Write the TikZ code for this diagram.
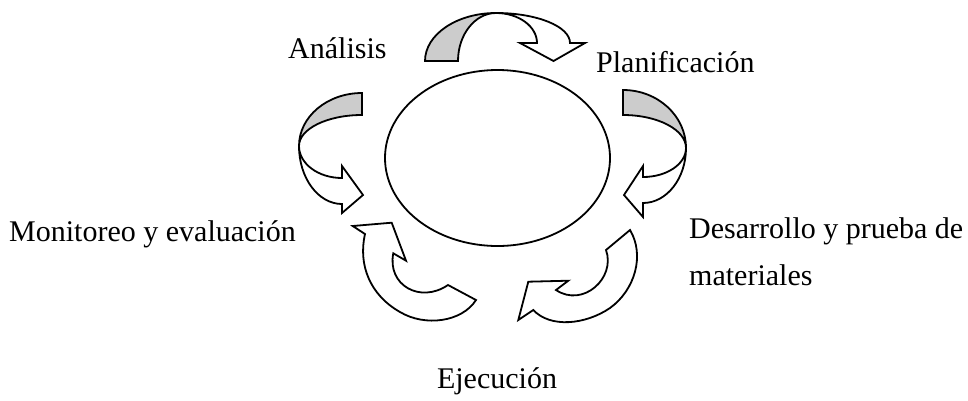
\documentclass[tikz,border=0pt]{standalone}
\usepackage{fontspec}
\setmainfont{Liberation Serif}
\usetikzlibrary{shapes.geometric}
\definecolor{tailgray}{RGB}{204,204,204}
\tikzset{
  ribbon/.style={draw=black, line width=1.8pt, line join=miter},
  label/.style={inner sep=0pt, font=\fontsize{30}{36}\selectfont},
}
% local frame: p along tail->head, q pointing inward; M at origin
\newcommand\ribbonarrow[9]{%
  \filldraw[ribbon, fill=white] (0,0) .. controls ({0.5523*#5},0) and (#5,{#6-0.5523*#6}) .. (#5,#6)
     -- (#8,#6) -- (#9) -- (#7,#6) -- (#4,#6)
     .. controls (#4,{#6-0.5523*#6}) and ({0.5523*#4},0) .. (0,0) -- cycle;
  \filldraw[ribbon, fill=tailgray] (0,0) .. controls ({-0.5523*#1},0) and (-#1,{#3-0.5523*#3}) .. (-#1,#3)
     -- (-#2,#3) .. controls (-#2,{#3-0.5523*#3}) and ({-0.5523*#2},0) .. (0,0) -- cycle;
}
\begin{document}
\begin{tikzpicture}[x=1pt, y=-1pt]
\useasboundingbox (0,0) rectangle (968,400);
% centre ellipse
\node[ellipse, draw, line width=1.8pt, minimum width=225pt, minimum height=176pt, inner sep=0pt] (core) at (497.5,158) {};
% top arrow (Analisis -> Planificacion)
\begin{scope}[shift={(496,13)}]
  \ribbonarrow{71}{38}{48}{41}{74}{30}{24}{89}{57.5,48}
\end{scope}
% right arrow (Planificacion -> Desarrollo)
\begin{scope}[shift={(686,148)}, rotate=-90]
  \ribbonarrow{58}{33}{63}{29}{55}{43}{18}{69}{47,62}
\end{scope}
% left arrow (Analisis side -> Monitoreo side)
\begin{scope}[shift={(299,146)}, xscale=-1, rotate=-90]
  \ribbonarrow{53}{31}{63}{32}{58}{43}{20}{67}{49,64}
\end{scope}
% bottom-right arrow
\filldraw[ribbon, fill=white] (630,230) .. controls (645,255) and (635,290) .. (610,308)
   .. controls (585,325) and (550,328) .. (533.3,310)
   -- (518.3,320) -- (528.3,281.7) -- (568.3,280.7) -- (556,290)
   .. controls (583,308) and (616,278) .. (606,250) -- cycle;
% bottom-left arrow
\filldraw[ribbon, fill=white] (476,300) .. controls (462,322) and (425,327) .. (400,312)
   .. controls (370,295) and (358,265) .. (365,234)
   -- (352.7,226) -- (391.7,222.7) -- (406,260.7) -- (393.3,253.3)
   .. controls (387,285) and (420,304) .. (448,285) -- cycle;
% labels
\node[label, anchor=base west] (ana) at (288,58) {Análisis};
\node[label, anchor=base west] (pla) at (596,72) {Planificación};
\node[label, anchor=base west] (mon) at (9,241) {Monitoreo y evaluación};
\node[label, anchor=base west] (des1) at (689,238) {Desarrollo y prueba de};
\node[label, anchor=base west] (des2) at (689,285) {materiales};
\node[label, anchor=base] (eje) at (497,388) {Ejecución};
\end{tikzpicture}
\end{document}
